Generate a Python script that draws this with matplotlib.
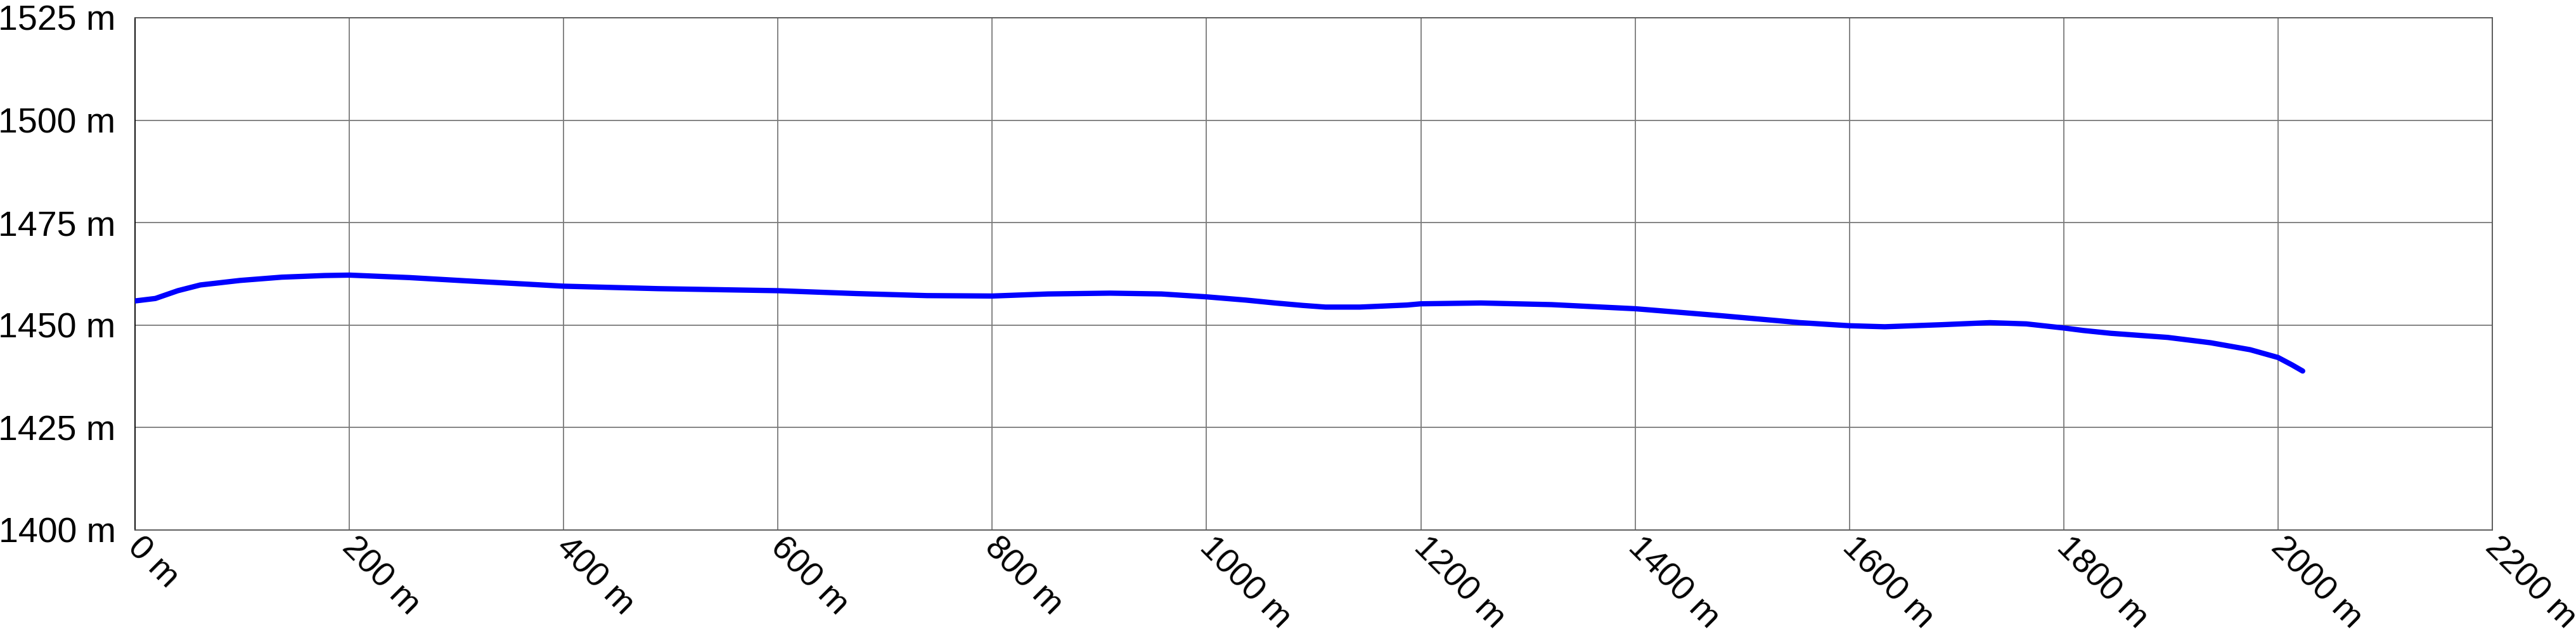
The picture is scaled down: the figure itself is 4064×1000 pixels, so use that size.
import matplotlib
matplotlib.use("Agg")
import matplotlib.pyplot as plt
from matplotlib.ticker import FuncFormatter
from matplotlib.transforms import ScaledTranslation

plt.rcParams['font.family'] = ['Liberation Sans', 'DejaVu Sans']

# elevation profile
distance_m = [0, 19, 40, 61, 98, 137, 177, 200, 256, 309, 362, 400, 488, 600, 673, 739,
              800, 852, 910, 958, 1000, 1037, 1064, 1090, 1111, 1143, 1187, 1200, 1256,
              1322, 1400, 1480, 1554, 1600, 1633, 1686, 1731, 1765, 1800, 1818, 1844,
              1897, 1937, 1974, 2000, 2013, 2023]
elevation_m = [1455.9, 1456.5, 1458.4, 1459.8, 1460.9, 1461.7, 1462.1, 1462.2, 1461.6,
               1460.8, 1460.05, 1459.5, 1458.9, 1458.4, 1457.7, 1457.2, 1457.1, 1457.6,
               1457.8, 1457.6, 1456.9, 1456.1, 1455.4, 1454.8, 1454.4, 1454.4, 1454.9,
               1455.2, 1455.4, 1455.0, 1454.0, 1452.3, 1450.6, 1449.85, 1449.6, 1450.1,
               1450.6, 1450.3, 1449.3, 1448.7, 1448.0, 1447.0, 1445.7, 1444.0, 1442.1,
               1440.3, 1438.8]

x_ticks = list(range(0, 2201, 200))
y_ticks = [1400, 1425, 1450, 1475, 1500, 1525]

fig = plt.figure(figsize=(40.64, 10), dpi=100)
ax = fig.add_axes([213 / 4064, 164 / 1000, (3932 - 213) / 4064, (836 - 28) / 1000])

ax.plot(distance_m, elevation_m, color="#0000ff", linewidth=6,
        solid_capstyle="round", solid_joinstyle="round", zorder=3)

ax.set_xlim(0, 2200)
ax.set_ylim(1400, 1525)
ax.set_xticks(x_ticks)
ax.set_yticks(y_ticks)
ax.xaxis.set_major_formatter(FuncFormatter(lambda v, p: "%d m" % v))
ax.yaxis.set_major_formatter(FuncFormatter(lambda v, p: "%d m" % v))

ax.grid(True, color="#7a7a7a", linewidth=1.3)
ax.set_axisbelow(True)
for side in ["top", "right", "bottom"]:
    ax.spines[side].set_color("#555555")
    ax.spines[side].set_linewidth(1.3)
ax.spines["left"].set_color("black")
ax.spines["left"].set_linewidth(1.3)

ax.tick_params(axis="both", length=0, colors="black")
ax.tick_params(axis="y", pad=22, labelsize=40)
ax.tick_params(axis="x", pad=1.5, labelsize=39)
# slanted distance labels start a little right of their gridline
shift = ScaledTranslation(0.14, 0, fig.dpi_scale_trans)
for lab in ax.get_xticklabels():
    lab.set_rotation(-45)
    lab.set_ha("left")
    lab.set_va("top")
    lab.set_rotation_mode("anchor")
    lab.set_transform(lab.get_transform() + shift)

fig.savefig("out.png", dpi=100, facecolor="white")
